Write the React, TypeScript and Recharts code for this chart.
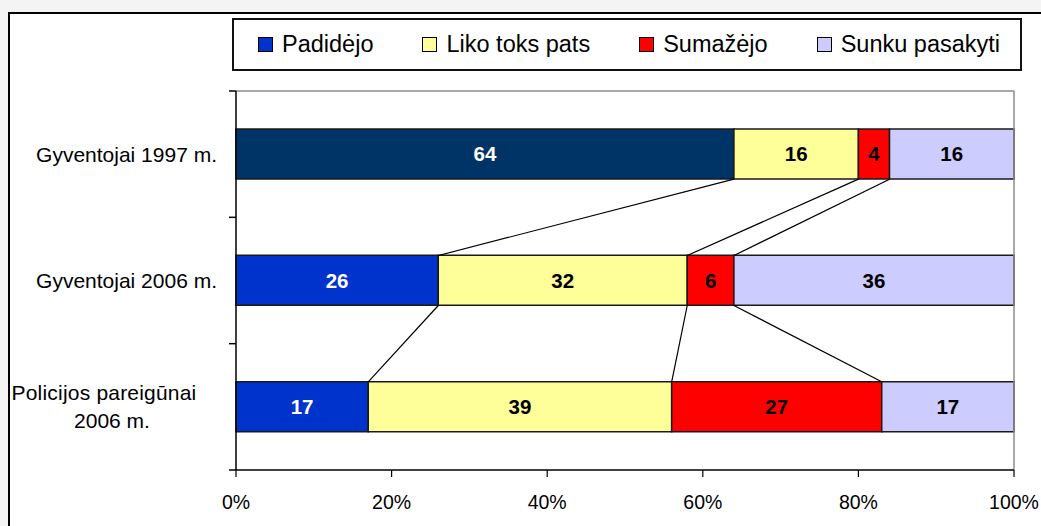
import React from 'react';
import { BarChart, Bar, XAxis, YAxis, ReferenceLine, LabelList, Cell } from 'recharts';

// ---- data ----
const categories = ['Gyventojai 1997 m.', 'Gyventojai 2006 m.', 'Policijos pareigūnai 2006 m.'];
const seriesNames = ['Padidėjo', 'Liko toks pats', 'Sumažėjo', 'Sunku pasakyti'];
const padidejo = [64, 26, 17];
const likoToksPats = [16, 32, 39];
const sumazejo = [4, 6, 27];
const sunkuPasakyti = [16, 36, 17];
const xTicks = [0, 20, 40, 60, 80, 100];

// ---- styles ----
const FONT = '"Liberation Sans", Arial, Helvetica, sans-serif';
const seriesValues = [padidejo, likoToksPats, sumazejo, sunkuPasakyti];
const seriesKeys = ['s0', 's1', 's2', 's3'];
const seriesColors = ['#0033CC', '#FFFF99', '#FF0000', '#CCCCFF'];
const highlightColor = '#003366';
const labelColors = ['#FFFFFF', '#000000', '#000000', '#000000'];
const BAR = 50;

const data = categories.map((name, i) => {
  const row: Record<string, any> = { name };
  seriesValues.forEach((vals, k) => {
    row[seriesKeys[k]] = vals[i];
  });
  return row;
});

// series lines connecting segment ends between adjacent bars
const cumAt = (row: number, k: number) =>
  seriesValues.slice(0, k + 1).reduce((s, v) => s + v[row], 0);
const connectors: { key: string; from: any; to: any }[] = [];
for (let i = 0; i < categories.length - 1; i++) {
  for (let k = 0; k < seriesValues.length - 1; k++) {
    connectors.push({
      key: `c-${i}-${k}`,
      from: { x: cumAt(i, k), y: categories[i] },
      to: { x: cumAt(i + 1, k), y: categories[i + 1] },
    });
  }
}

const wrapLabel = (s: string, max: number) => {
  const words = s.split(' ');
  const lines: string[] = [];
  let cur = '';
  words.forEach((w) => {
    const next = cur ? cur + ' ' + w : w;
    if (next.length > max && cur) {
      lines.push(cur);
      cur = w;
    } else cur = next;
  });
  if (cur) lines.push(cur);
  return lines;
};

const CategoryTick = (props: any) => {
  const { x, y, payload } = props;
  const lines = wrapLabel(String(payload.value), 20);
  if (lines.length === 1) {
    return (
      <text x={x} y={y} dy="0.355em" textAnchor="end" fontSize={21} fontFamily={FONT} fill="#000">
        {lines[0]}
      </text>
    );
  }
  const cx = x - 109;
  return (
    <text x={cx} y={y} textAnchor="middle" fontSize={21} fontFamily={FONT} fill="#000">
      {lines.map((l, j) => (
        <tspan
          key={j}
          x={cx + (j === 0 ? -4 : 4)}
          dy={j === 0 ? `${0.355 - ((lines.length - 1) * 1.33) / 2}em` : '1.33em'}
          letterSpacing={j === 0 ? 0.2 : 0}
        >
          {l}
        </tspan>
      ))}
    </text>
  );
};

const ConnectorShape = (p: any) => (
  <line x1={p.x1} y1={p.y1 + BAR / 2} x2={p.x2} y2={p.y2 - BAR / 2} stroke="#000" strokeWidth={1.2} />
);

const BoundaryTick = (p: any) => (
  <line x1={p.x1 - 7} y1={p.y1} x2={p.x1} y2={p.y1} stroke="#000" strokeWidth={1.5} />
);

const Legend = () => (
  <div
    style={{
      position: 'absolute',
      left: 232,
      top: 18,
      width: 790,
      height: 53,
      boxSizing: 'border-box',
      border: '2px solid #111',
      background: '#fff',
      display: 'flex',
      alignItems: 'center',
      paddingLeft: 24,
      fontFamily: FONT,
      fontSize: 23.5,
      color: '#000',
    }}
  >
    {seriesNames.map((n, k) => (
      <div key={n} style={{ display: 'flex', alignItems: 'center', marginRight: k < seriesNames.length - 1 ? 49 : 0 }}>
        <span
          style={{
            display: 'inline-block',
            width: 13,
            height: 13,
            background: seriesColors[k],
            border: '1px solid #000',
            marginRight: 9,
          }}
        />
        <span style={{ whiteSpace: 'nowrap' }}>{n}</span>
      </div>
    ))}
  </div>
);

export default function App() {
  return (
    <div style={{ position: 'absolute', left: 0, top: 0, width: 1041, height: 526, overflow: 'hidden', background: '#f4f4f4' }}>
      <div
        style={{
          position: 'absolute',
          left: 8,
          top: 12,
          width: 1100,
          height: 600,
          borderLeft: '2px solid #000',
          borderTop: '2px solid #000',
          background: '#fff',
        }}
      />
      <div style={{ position: 'absolute', left: 0, top: 0 }}>
        <BarChart
          width={1041}
          height={526}
          data={data}
          layout="vertical"
          margin={{ top: 91, right: 27, left: 0, bottom: 0 }}
          barSize={BAR}
        >
          <ReferenceLine y={categories[0]} position="start" stroke="#8c8c8c" strokeWidth={1.5} ifOverflow="visible" />
          <ReferenceLine x={100} stroke="#8c8c8c" strokeWidth={1.5} ifOverflow="visible" />
          <XAxis
            type="number"
            domain={[0, 100]}
            ticks={xTicks}
            interval={0}
            tickFormatter={(v: number) => `${v}%`}
            height={56}
            axisLine={{ stroke: '#000', strokeWidth: 1.5 }}
            tickLine={{ stroke: '#000', strokeWidth: 1.2 }}
            tickSize={7}
            tickMargin={18}
            tick={{ fill: '#000', fontSize: 19.5, fontFamily: FONT }}
          />
          <YAxis
            type="category"
            dataKey="name"
            width={236}
            axisLine={{ stroke: '#000', strokeWidth: 1.5 }}
            tickLine={false}
            tickSize={6}
            tickMargin={13}
            tick={<CategoryTick />}
          />
          {seriesKeys.map((key, k) => (
            <Bar
              key={key}
              dataKey={key}
              name={seriesNames[k]}
              stackId="a"
              fill={seriesColors[k]}
              stroke="#1a1a1a"
              strokeWidth={1.5}
              isAnimationActive={false}
            >
              {k === 0 &&
                data.map((_, i) => <Cell key={i} fill={i === 0 ? highlightColor : seriesColors[0]} />)}
              <LabelList
                dataKey={key}
                position="center"
                fill={labelColors[k]}
                fontSize={20.5}
                fontWeight="bold"
                fontFamily={FONT}
              />
            </Bar>
          ))}
          {connectors.map((c) => (
            <ReferenceLine key={c.key} segment={[c.from, c.to]} ifOverflow="visible" shape={ConnectorShape} />
          ))}
          {categories.map((c) => (
            <ReferenceLine key={'t' + c} y={c} position="start" ifOverflow="visible" shape={BoundaryTick} />
          ))}
          <ReferenceLine
            y={categories[categories.length - 1]}
            position="end"
            ifOverflow="visible"
            shape={BoundaryTick}
          />
        </BarChart>
      </div>
      <Legend />
    </div>
  );
}
